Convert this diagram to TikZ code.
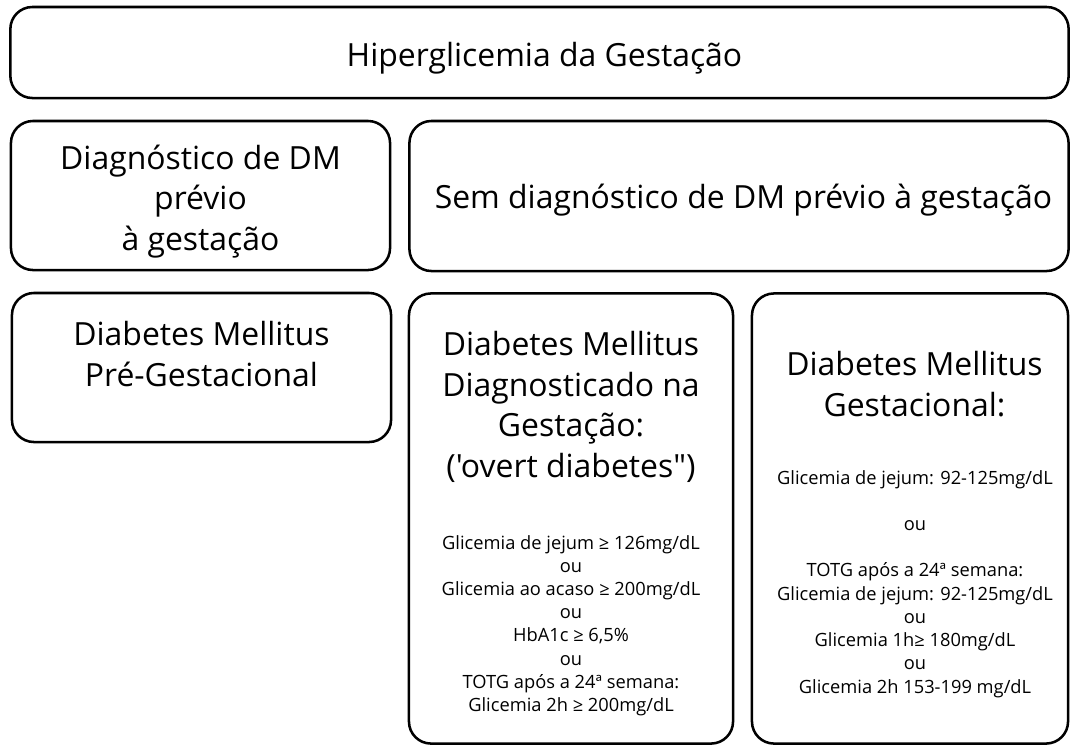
\documentclass[tikz,border=0pt]{standalone}
\usepackage{fontspec}
\setmainfont{Open Sans}[Ligatures=TeXOff]
\usetikzlibrary{positioning}

\tikzset{
  box/.style={rectangle, rounded corners=0.55cm, draw=black, line width=1.8pt, inner sep=0pt},
  bigtext/.style={align=center, inner sep=0pt, font=\fontsize{22.7}{28.8}\selectfont},
  smalltext/.style={align=center, inner sep=0pt, font=\fontsize{13}{16.5}\selectfont},
}

\begin{document}
\begin{tikzpicture}[x=0.025cm, y=-0.025cm]
    \useasboundingbox (0,0) rectangle (1070,745);

    % boxes
    \node[box, minimum width=26.45cm, minimum height=2.275cm] (hiper) at (539.5,52.5) {};
    \node[box, minimum width=9.475cm, minimum height=3.725cm] (prev) at (200.5,195.5) {};
    \node[box, minimum width=16.475cm, minimum height=3.75cm] (semprev) at (739,196) {};
    \node[box, minimum width=9.475cm, minimum height=3.725cm] (pregest) at (201.5,367.5) {};
    \node[box, minimum width=8.1cm, minimum height=11.25cm] (overt) at (571,518.5) {};
    \node[box, minimum width=7.9cm, minimum height=11.25cm] (dmg) at (910,518.5) {};

    % texts
    \node[bigtext, anchor=base] (hiperTxt) at (544.5,66) {Hiperglicemia da Gestação};
    \node[bigtext, anchor=north] (prevTxt) at (200.5,144.5) {Diagnóstico de DM\\prévio\\à gestação};
    \node[bigtext, anchor=base] (semprevTxt) at (743.5,208) {Sem diagnóstico de DM prévio à gestação};
    \node[bigtext, anchor=north] (pregestTxt) at (201.5,321) {Diabetes Mellitus\\Pré-Gestacional};
    \node[bigtext, anchor=north] (overtTxt) at (571,331) {Diabetes Mellitus\\Diagnosticado na\\Gestação:\\('overt diabetes")};
    \node[smalltext, anchor=north] (overtCrit) at (571,535) {Glicemia de jejum ≥ 126mg/dL\\ou\\Glicemia ao acaso ≥ 200mg/dL\\ou\\HbA1c ≥ 6,5\%\\ou\\TOTG após a 24ª semana:\\Glicemia 2h ≥ 200mg/dL};
    \node[bigtext, anchor=north] (dmgTxt) at (914.5,351) {Diabetes Mellitus\\Gestacional:};
    \node[smalltext, anchor=north] (dmgCrit) at (915,470) {Glicemia de jejum: 92-125mg/dL\\[16.5pt]ou\\[16.5pt]TOTG após a 24ª semana:\\Glicemia de jejum: 92-125mg/dL\\ou\\Glicemia 1h≥ 180mg/dL\\ou\\Glicemia 2h 153-199 mg/dL};
\end{tikzpicture}
\end{document}
